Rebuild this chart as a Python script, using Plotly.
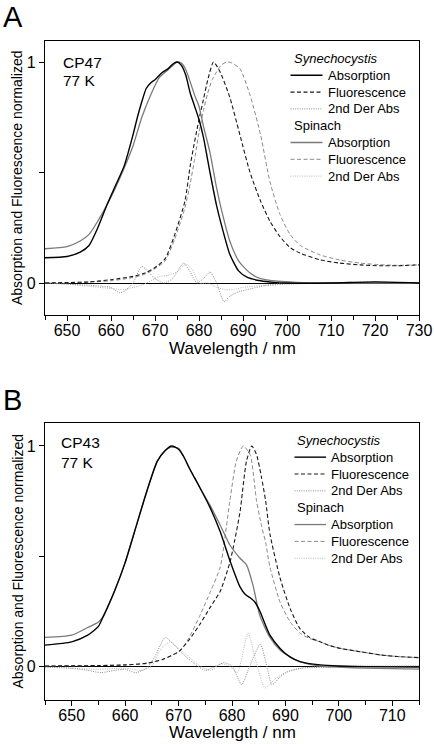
import plotly.graph_objects as go
from plotly.subplots import make_subplots

# ---------------- Panel A (CP47) ----------------
A_syn_abs_x = [645, 650, 653, 655, 657, 659, 661, 663, 665, 666, 667, 668, 669, 670, 671.5, 673, 674, 675, 676, 677, 678, 679, 680, 681, 682.5, 684, 685, 687, 689, 691, 694, 697, 700, 710, 720, 730]
A_syn_abs_y = [0.114, 0.12, 0.14, 0.17, 0.25, 0.35, 0.44, 0.53, 0.67, 0.75, 0.82, 0.88, 0.905, 0.92, 0.95, 0.97, 0.99, 1.0, 0.985, 0.94, 0.86, 0.80, 0.74, 0.66, 0.50, 0.35, 0.27, 0.13, 0.055, 0.025, 0.01, 0.003, 0.0, 0.0, 0.005, 0.0]

A_spi_abs_x = [645, 650, 653, 655, 657, 659, 661, 663, 665, 667, 669, 671, 673, 675, 676, 677, 678, 679, 680, 681, 682.5, 684, 685, 687, 689, 691.6, 694, 698, 702, 710, 730]
A_spi_abs_y = [0.155, 0.165, 0.19, 0.22, 0.28, 0.35, 0.43, 0.52, 0.62, 0.75, 0.85, 0.93, 0.965, 1.0, 0.995, 0.965, 0.91, 0.85, 0.80, 0.71, 0.59, 0.43, 0.34, 0.19, 0.10, 0.045, 0.02, 0.008, 0.003, 0.0, 0.0]

A_syn_flu_x = [645, 650, 655, 660, 665, 667.7, 670, 672.3, 674.5, 676.8, 678, 679, 679.5, 680, 681, 682, 683.3, 684.8, 687, 689.3, 691.6, 694, 696.1, 698.4, 700.7, 703, 707.5, 712, 716.6, 721, 725, 730]
A_syn_flu_y = [0.0, 0.002, 0.005, 0.015, 0.03, 0.045, 0.07, 0.11, 0.22, 0.37, 0.53, 0.64, 0.69, 0.74, 0.83, 0.92, 1.0, 0.955, 0.84, 0.67, 0.50, 0.37, 0.28, 0.21, 0.16, 0.135, 0.105, 0.09, 0.082, 0.078, 0.078, 0.082]

A_spi_flu_x = [645, 655, 660, 665, 667.7, 670, 672.3, 674.5, 676.8, 678, 679, 680, 681, 682, 683, 684, 685, 686.3, 687.5, 689.3, 691.6, 694, 696.1, 698.4, 700.7, 703, 707.5, 712, 716.6, 721, 725, 730]
A_spi_flu_y = [0.0, 0.004, 0.01, 0.025, 0.04, 0.065, 0.10, 0.20, 0.34, 0.45, 0.56, 0.68, 0.78, 0.86, 0.92, 0.955, 0.985, 1.0, 0.995, 0.97, 0.85, 0.67, 0.46, 0.31, 0.22, 0.17, 0.127, 0.104, 0.09, 0.083, 0.08, 0.082]

A_syn_der_x = [645, 650, 655, 658, 660, 662, 663.5, 665, 667, 668.5, 670, 672, 674, 676.5, 678, 679.5, 681, 682.5, 684, 685.7, 687, 689, 692, 695, 700, 710, 720, 730]
A_syn_der_y = [0.0, -0.005, -0.01, -0.015, -0.02, -0.045, -0.03, 0.0, 0.075, 0.05, 0.02, 0.0, 0.02, 0.09, 0.05, 0.0, 0.02, 0.05, 0.0, -0.085, -0.06, -0.04, -0.025, -0.012, -0.005, 0.0, 0.005, 0.0]

A_spi_der_x = [645, 650, 655, 660, 663, 665, 667, 669, 671, 673, 675, 677, 678.5, 680, 682, 684, 686, 688, 690, 695, 700, 730]
A_spi_der_y = [0.0, -0.005, -0.015, -0.025, -0.03, -0.02, -0.01, 0.01, 0.03, 0.035, 0.05, 0.085, 0.06, 0.0, 0.0, -0.02, -0.03, -0.03, -0.02, -0.01, 0.0, 0.0]

# ---------------- Panel B (CP43) ----------------
B_syn_abs_x = [645, 650, 653, 655, 656, 658, 660, 662, 664, 666, 667.5, 668.7, 670, 671, 672, 673, 674, 675.9, 677.8, 679.6, 681.5, 682.5, 683.4, 684.3, 685.2, 686.2, 687.1, 689, 690.9, 692.7, 696.5, 700, 705, 715]
B_syn_abs_y = [0.095, 0.11, 0.14, 0.18, 0.23, 0.34, 0.47, 0.63, 0.79, 0.93, 0.98, 1.0, 0.985, 0.95, 0.90, 0.855, 0.81, 0.72, 0.61, 0.48, 0.36, 0.325, 0.31, 0.29, 0.25, 0.19, 0.14, 0.08, 0.04, 0.02, 0.005, 0.0, -0.003, -0.005]

B_spi_abs_x = [645, 650, 653, 655, 656, 658, 660, 662, 664, 666, 667.5, 668.7, 670, 671, 672, 673, 674, 675.9, 677.8, 679.6, 681.5, 682.7, 683.9, 685.2, 687.1, 689, 690.9, 692.7, 696.5, 700, 705, 715]
B_spi_abs_y = [0.13, 0.14, 0.175, 0.2, 0.23, 0.34, 0.47, 0.63, 0.79, 0.93, 0.98, 0.995, 0.99, 0.95, 0.90, 0.855, 0.81, 0.73, 0.64, 0.55, 0.49, 0.46, 0.37, 0.23, 0.13, 0.073, 0.042, 0.02, 0.0, -0.005, -0.01, -0.014]

B_syn_flu_x = [645, 655, 660, 664.3, 667, 670, 672, 674, 676, 677.8, 679.6, 680.5, 681.5, 682.7, 683.7, 684.6, 685.5, 686.3, 687.1, 689, 690.9, 692.7, 694.5, 696.5, 698, 700.3, 704, 707.9, 711, 715]
B_syn_flu_y = [0.0, 0.002, 0.005, 0.013, 0.03, 0.065, 0.12, 0.19, 0.27, 0.34, 0.47, 0.57, 0.70, 0.93, 1.0, 0.96, 0.86, 0.75, 0.60, 0.40, 0.26, 0.17, 0.13, 0.11, 0.095, 0.08, 0.065, 0.05, 0.043, 0.038]

B_spi_flu_x = [645, 655, 660, 664, 667, 670.3, 672, 674, 676, 677.8, 679.6, 680.8, 682.1, 683.4, 684.6, 685.5, 686.3, 687.1, 689, 690.9, 692.7, 694.5, 696.5, 698, 700.3, 704, 707.9, 711, 715]
B_spi_flu_y = [0.0, 0.002, 0.005, 0.013, 0.03, 0.07, 0.13, 0.23, 0.34, 0.45, 0.75, 0.93, 1.0, 0.96, 0.75, 0.64, 0.56, 0.45, 0.29, 0.20, 0.15, 0.125, 0.11, 0.095, 0.08, 0.065, 0.05, 0.043, 0.038]

B_syn_der_x = [645, 650, 653, 655.5, 658, 660, 662, 664, 665.5, 667.5, 669, 671, 673, 675, 677, 678.5, 680, 681.8, 683, 685.3, 686.5, 687.5, 689, 690.5, 693, 700, 715]
B_syn_der_y = [-0.005, -0.01, -0.02, -0.03, -0.02, -0.015, -0.03, -0.01, 0.04, 0.13, 0.10, 0.05, 0.01, -0.02, 0.0, 0.015, 0.0, -0.085, -0.02, 0.10, 0.0, -0.085, -0.05, -0.025, -0.01, -0.005, 0.0]

B_spi_der_x = [645, 650, 655, 660, 663, 665, 666.5, 668.4, 670, 672, 674, 676, 678, 679.5, 681, 683, 684.5, 686.2, 688, 690, 693, 700, 715]
B_spi_der_y = [-0.005, -0.01, -0.015, -0.01, -0.02, 0.0, 0.07, 0.11, 0.08, 0.04, 0.0, -0.02, 0.01, 0.0, -0.03, 0.15, 0.02, -0.10, -0.06, -0.03, -0.01, 0.0, 0.0]

# ---------------- labels ----------------
panel_letters = ["A", "B"]
panel_names = [["CP47", "77 K"], ["CP43", "77 K"]]
x_ticks_A = [650, 660, 670, 680, 690, 700, 710, 720, 730]
x_ticks_B = [650, 660, 670, 680, 690, 700, 710]
y_ticks = [0, 0.5, 1]
y_tick_text = ["0", "", "1"]
legend_groups = ["<i>Synechocystis</i>", "Spinach"]
legend_items = ["Absorption", "Fluorescence", "2nd Der Abs"]
x_title = "Wavelength / nm"
y_title = "Absorption and Fluorescence normalized"

FONT = "Liberation Sans, Arial, Helvetica, sans-serif"
W, H = 434, 744

def px(x):
    return x / W

def py(y):
    return 1 - y / H

STY = {
    "syn_abs": dict(color="#000000", width=1.4, dash="solid"),
    "syn_flu": dict(color="#1a1a1a", width=1.1, dash="4px,2.5px"),
    "syn_der": dict(color="#8c8c8c", width=1.0, dash="1px,1.3px"),
    "spi_abs": dict(color="#7a7a7a", width=1.3, dash="solid"),
    "spi_flu": dict(color="#8a8a8a", width=1.0, dash="4px,2.5px"),
    "spi_der": dict(color="#b8b8b8", width=1.0, dash="1px,1.3px"),
}

fig = make_subplots(rows=2, cols=1)

panels = [
    dict(row=1, series=[("spi_der", A_spi_der_x, A_spi_der_y), ("syn_der", A_syn_der_x, A_syn_der_y),
                        ("spi_flu", A_spi_flu_x, A_spi_flu_y), ("syn_flu", A_syn_flu_x, A_syn_flu_y),
                        ("spi_abs", A_spi_abs_x, A_spi_abs_y), ("syn_abs", A_syn_abs_x, A_syn_abs_y)]),
    dict(row=2, series=[("spi_der", B_spi_der_x, B_spi_der_y), ("syn_der", B_syn_der_x, B_syn_der_y),
                        ("spi_flu", B_spi_flu_x, B_spi_flu_y), ("syn_flu", B_syn_flu_x, B_syn_flu_y),
                        ("spi_abs", B_spi_abs_x, B_spi_abs_y), ("syn_abs", B_syn_abs_x, B_syn_abs_y)]),
]
for p in panels:
    for key, xs, ys in p["series"]:
        fig.add_trace(go.Scatter(x=xs, y=ys, mode="lines", line=dict(shape="spline", smoothing=0.6, **STY[key]),
                                 showlegend=False, hoverinfo="skip"), row=p["row"], col=1)

plot_left, plot_right = 45, 419
A_top, A_bot = 41, 315
B_top, B_bot = 423, 700

axis_common = dict(showline=True, mirror=True, linecolor="black", linewidth=1.1, showgrid=False,
                   automargin=False,
                   ticks="outside", tickcolor="black", tickwidth=1, ticklen=5,
                   tickfont=dict(family=FONT, size=16, color="black"))

xminor = dict(dtick=5, tick0=645, ticks="outside", ticklen=3.5, tickcolor="black")

fig.update_layout(
    width=W, height=H, margin=dict(l=0, r=0, t=0, b=0),
    paper_bgcolor="white", plot_bgcolor="white", showlegend=False,
    font=dict(family=FONT, color="black"),
    xaxis=dict(domain=[px(plot_left), px(plot_right)], range=[645, 730], tickvals=x_ticks_A,
               minor=xminor, ticklabelstandoff=-4, **axis_common),
    yaxis=dict(domain=[py(A_bot), py(A_top)], range=[-0.1448, 1.095], tickvals=y_ticks, ticktext=y_tick_text,
               zeroline=True, zerolinecolor="black", zerolinewidth=1.3, **axis_common),
    xaxis2=dict(domain=[px(plot_left), px(plot_right)], range=[645, 715], tickvals=x_ticks_B,
                minor=xminor, ticklabelstandoff=-4, **axis_common),
    yaxis2=dict(domain=[py(B_bot), py(B_top)], range=[-0.1545, 1.1045], tickvals=y_ticks, ticktext=y_tick_text,
                zeroline=True, zerolinecolor="black", zerolinewidth=1.3, **axis_common),
)

ann = []
shapes = []
panel_geo = [
    dict(top=A_top, bot=A_bot, letter_y=17, name_y=[62, 80], name_x=61,
         leg_y0=58.5, leg_dy=16.8, leg_line_x=[290.5, 322.5], leg_text_x=325.5, leg_title_x=291.5, xtitle_y=348),
    dict(top=B_top, bot=B_bot, letter_y=400, name_y=[442, 462], name_x=59,
         leg_y0=440.3, leg_dy=16.85, leg_line_x=[294.5, 326], leg_text_x=329, leg_title_x=295, xtitle_y=732),
]
order = [["syn_abs", "syn_flu", "syn_der"], ["spi_abs", "spi_flu", "spi_der"]]
for i, g in enumerate(panel_geo):
    ann.append(dict(text=panel_letters[i], x=px(1), y=py(g["letter_y"]), xref="paper", yref="paper",
                    xanchor="left", yanchor="middle", showarrow=False, font=dict(family=FONT, size=29)))
    for j, t in enumerate(panel_names[i]):
        ann.append(dict(text=t, x=px(g["name_x"]), y=py(g["name_y"][j]), xref="paper", yref="paper",
                        xanchor="left", yanchor="middle", showarrow=False, font=dict(family=FONT, size=15.5)))
    ann.append(dict(text=y_title, x=px(17), y=py((g["top"] + g["bot"]) / 2), xref="paper", yref="paper",
                    textangle=-90, xanchor="center", yanchor="middle", showarrow=False,
                    font=dict(family=FONT, size=14)))
    ann.append(dict(text=x_title, x=px((plot_left + plot_right) / 2), y=py(g["xtitle_y"]), xref="paper",
                    yref="paper", xanchor="center", yanchor="middle", showarrow=False,
                    font=dict(family=FONT, size=17)))
    row = 0
    for gi, gname in enumerate(legend_groups):
        yrow = g["leg_y0"] + g["leg_dy"] * row
        ann.append(dict(text=gname, x=px(g["leg_title_x"]), y=py(yrow), xref="paper", yref="paper",
                        xanchor="left", yanchor="middle", showarrow=False, font=dict(family=FONT, size=13)))
        row += 1
        for k, item in enumerate(legend_items):
            yrow = g["leg_y0"] + g["leg_dy"] * row
            st = STY[order[gi][k]]
            shapes.append(dict(type="line", xref="paper", yref="paper",
                               x0=px(g["leg_line_x"][0]), x1=px(g["leg_line_x"][1]), y0=py(yrow), y1=py(yrow),
                               line=dict(color=st["color"], width=st["width"], dash=st["dash"])))
            ann.append(dict(text=item, x=px(g["leg_text_x"]), y=py(yrow), xref="paper", yref="paper",
                            xanchor="left", yanchor="middle", showarrow=False, font=dict(family=FONT, size=13)))
            row += 1

fig.update_layout(annotations=ann, shapes=shapes)
fig.write_html("out.html", config={"displayModeBar": False},
               post_script="document.body.style.margin='0';document.body.style.overflow='hidden';")
